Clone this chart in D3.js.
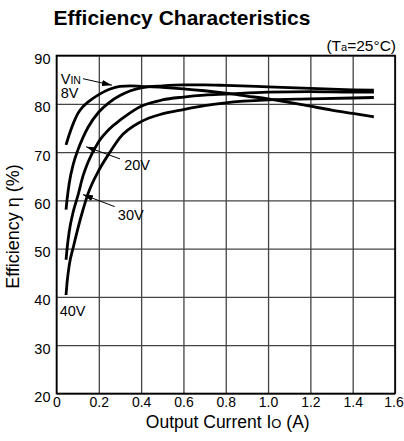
<!DOCTYPE html>
<html><head><meta charset="utf-8">
<script src="https://cdn.jsdelivr.net/npm/d3@7"></script>
<style>
html,body{margin:0;padding:0;background:#fff;}
svg text{font-family:"Liberation Sans",Arial,Helvetica,sans-serif;fill:#000;}
</style></head>
<body>
<svg id="chart" width="404" height="441"></svg>
<script>
// ---- data ----
const xTicks = [0, 0.2, 0.4, 0.6, 0.8, 1.0, 1.2, 1.4, 1.6];
const yTicks = [20, 30, 40, 50, 60, 70, 80, 90];

const current8V  = [0.045,0.06,0.08,0.1,0.125,0.15,0.2,0.25,0.3,0.35,0.4,0.5,0.6,0.7,0.8,0.9,1.0,1.1,1.2,1.3,1.4,1.5];
const eff8V      = [71.5,73.6,76.0,77.9,79.4,80.4,81.9,83.0,83.6,83.7,83.6,83.4,83.1,82.7,82.2,81.6,81.0,80.3,79.5,78.7,78.0,77.3];

const current20V = [0.045,0.05,0.06,0.08,0.1,0.125,0.15,0.2,0.25,0.3,0.35,0.4,0.5,0.6,0.7,0.8,1.0,1.2,1.4,1.5];
const eff20V     = [58.1,60.2,63.5,67.6,70.3,73.0,75.2,78.3,80.3,81.7,82.7,83.3,83.7,83.9,83.9,83.8,83.5,83.2,82.9,82.8];

const current30V = [0.045,0.05,0.06,0.08,0.1,0.125,0.15,0.2,0.25,0.3,0.4,0.5,0.6,0.7,0.8,1.0,1.2,1.4,1.5];
const eff30V     = [47.7,50.0,53.5,57.8,60.8,65.0,68.0,72.2,74.8,76.6,79.5,80.8,81.4,81.8,82.0,82.4,82.5,82.4,82.4];

const current40V = [0.045,0.05,0.06,0.08,0.1,0.125,0.15,0.2,0.25,0.3,0.4,0.5,0.6,0.7,0.8,1.0,1.2,1.4,1.5];
const eff40V     = [40.4,43.0,46.5,50.4,54.0,58.0,61.5,66.2,69.8,73.0,76.3,77.9,78.8,79.6,80.2,80.8,81.0,81.2,81.3];

const seriesNames = ["8V", "20V", "30V", "40V"];

// ---- layout ----
const svg = d3.select("#chart");
const pL = 56.5, pR = 395, pT = 55.5, pB = 393.5;
const x = d3.scaleLinear().domain([0, 1.6]).range([pL, pR]);
const y = d3.scaleLinear().domain([20, 90]).range([pB, pT]);

// gridlines via axes
const gx = svg.append("g").attr("transform", `translate(0,${pB})`)
  .call(d3.axisBottom(x).tickValues(xTicks).tickSize(-(pB - pT)).tickPadding(5)
    .tickFormat(d => d === 0 ? "0" : d3.format(".1f")(d)));
gx.select(".domain").remove();
gx.selectAll("line").attr("stroke", "#444").attr("stroke-width", 1.3);
gx.selectAll("text").attr("font-size", 14).attr("dy", "0.62em");
gx.selectAll("text").filter(d => d === 1.6).attr("dx", -1.5);

const gy = svg.append("g").attr("transform", `translate(${pL},0)`)
  .call(d3.axisLeft(y).tickValues(yTicks).tickSize(-(pR - pL)).tickPadding(6));
gy.select(".domain").remove();
gy.selectAll("line").attr("stroke", "#444").attr("stroke-width", 1.3);
gy.selectAll("text").attr("font-size", 14.5).attr("dy", "0.55em");

// frame
svg.append("rect").attr("x", pL).attr("y", pT).attr("width", pR - pL).attr("height", pB - pT)
  .attr("fill", "none").attr("stroke", "#000").attr("stroke-width", 1.6);

// curves
const series = [
  {name: seriesNames[0], xs: current8V, ys: eff8V},
  {name: seriesNames[1], xs: current20V, ys: eff20V},
  {name: seriesNames[2], xs: current30V, ys: eff30V},
  {name: seriesNames[3], xs: current40V, ys: eff40V}
];
const line = d3.line().x(d => x(d[0])).y(d => y(d[1])).curve(d3.curveMonotoneX);
svg.append("g").selectAll("path").data(series).join("path")
  .attr("d", s => line(s.xs.map((v, i) => [v, s.ys[i]])))
  .attr("fill", "none").attr("stroke", "#000").attr("stroke-width", 2.8).attr("stroke-linecap", "butt");

// arrow marker
svg.append("defs").append("marker").attr("id", "ah").attr("viewBox", "0 0 10 6")
  .attr("refX", 10).attr("refY", 3).attr("markerWidth", 10).attr("markerHeight", 6)
  .attr("markerUnits", "userSpaceOnUse").attr("orient", "auto")
  .append("path").attr("d", "M0,0 L10,3 L0,6 Z").attr("fill", "#000");

function arrow(x1, y1, x2, y2) {
  svg.append("line").attr("x1", x(x1)).attr("y1", y(y1)).attr("x2", x(x2)).attr("y2", y(y2))
    .attr("stroke", "#000").attr("stroke-width", 1).attr("marker-end", "url(#ah)");
}

// labels
const vin = svg.append("text").attr("x", x(0.02)).attr("y", y(84.2)).attr("font-size", 14.5);
vin.append("tspan").text("V");
vin.append("tspan").attr("font-size", 10.5).text("IN");
svg.append("text").attr("x", x(0.02)).attr("y", y(81.2)).attr("font-size", 14.5).text(seriesNames[0]);
arrow(0.125, 85.2, 0.262, 83.85);

svg.append("text").attr("x", x(0.32)).attr("y", y(66.2)).attr("font-size", 14.5).text(seriesNames[1]);
arrow(0.30, 68.6, 0.14, 71.1);

svg.append("text").attr("x", x(0.29)).attr("y", y(55.9)).attr("font-size", 14.5).text(seriesNames[2]);
arrow(0.275, 58.7, 0.125, 61.2);

svg.append("text").attr("x", x(0.015)).attr("y", y(36.0)).attr("font-size", 14.5).text(seriesNames[3]);

// title
svg.append("text").attr("x", 182).attr("y", 25).attr("text-anchor", "middle")
  .attr("font-size", 21).attr("font-weight", "bold").text("Efficiency Characteristics");

const ta = svg.append("text").attr("x", pR + 1).attr("y", 51).attr("text-anchor", "end").attr("font-size", 15.5);
ta.append("tspan").text("(T");
ta.append("tspan").attr("font-size", 11).text("a");
ta.append("tspan").text("=25°C)");

// axis titles
const xt = svg.append("text").attr("x", (pL + pR) / 2 + 2).attr("y", 428).attr("text-anchor", "middle").attr("font-size", 17.5);
xt.append("tspan").text("Output Current I");
xt.append("tspan").attr("font-size", 13).text("O");
xt.append("tspan").text(" (A)");

svg.append("text").attr("transform", `translate(19,${(pT + pB) / 2 + 2}) rotate(-90)`)
  .attr("text-anchor", "middle").attr("font-size", 18).text("Efficiency η (%)");
</script>
</body></html>
